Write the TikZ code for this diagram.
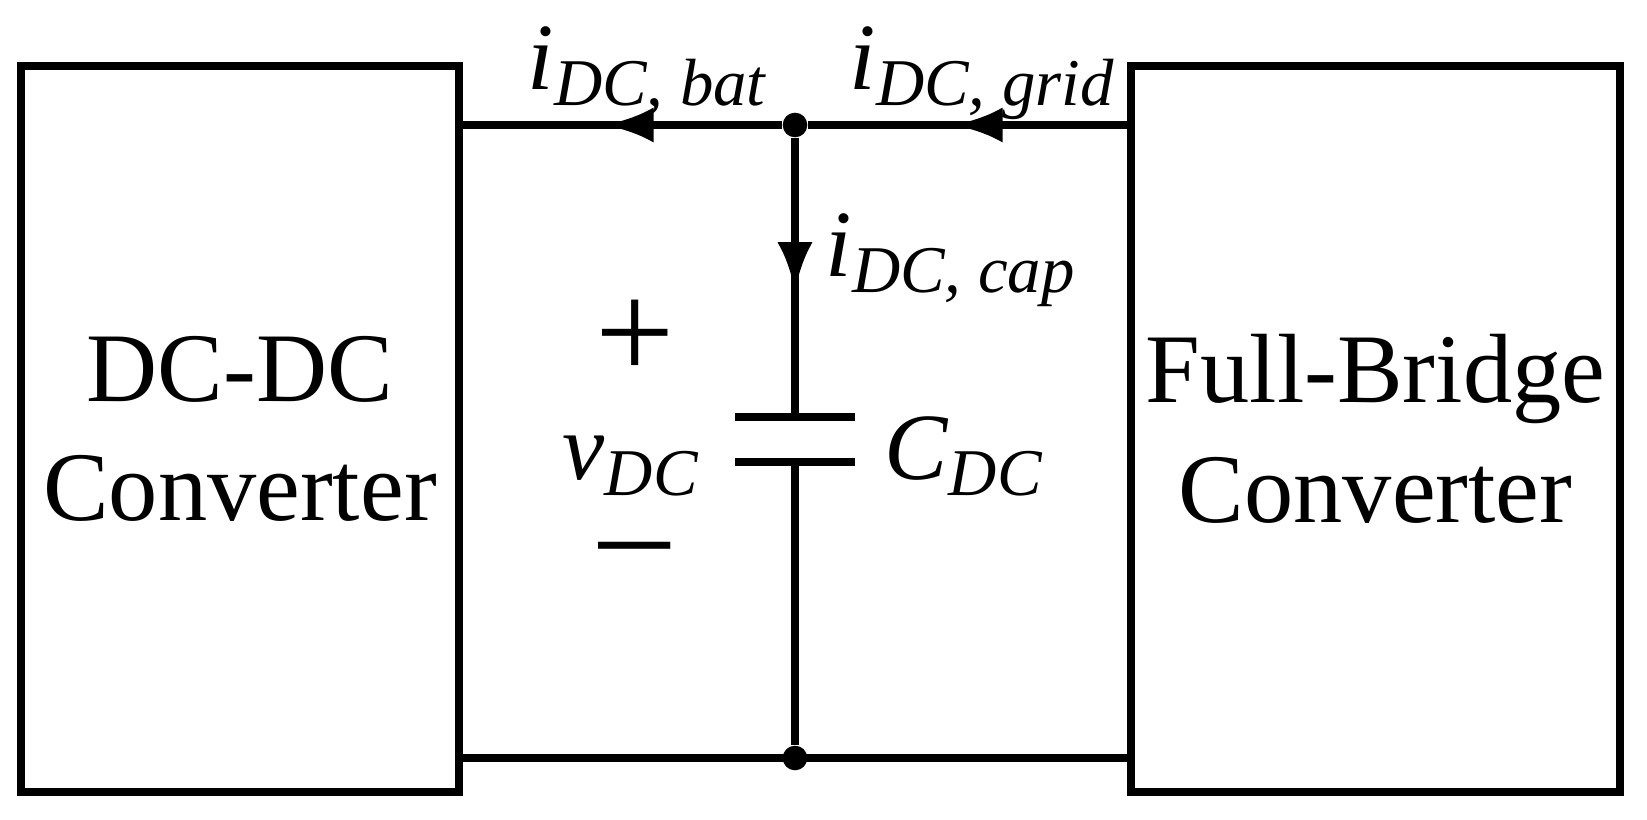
\documentclass[tikz,border=0pt]{standalone}
\usepackage{fontspec}
\setmainfont{Liberation Serif}
\usetikzlibrary{arrows.meta,decorations.markings}
\newcommand{\vsub}[2]{\textit{#1}\raisebox{-0.35ex}{\fontsize{19}{19}\selectfont\textit{#2}}}
\tikzset{
  wire/.style={line width=2.4pt},
  box/.style={draw,line width=2.4pt,align=center,font=\fontsize{28}{34}\selectfont},
  dot/.style={circle,fill,inner sep=0pt,minimum size=7pt},
  midarrow/.style={decoration={markings,mark=at position #1 with {\arrow{Latex[length=14pt,width=10pt]}}},postaction=decorate},
  lbl/.style={font=\fontsize{27}{27}\selectfont,inner sep=0pt,anchor=base west},
  sign/.style={font=\fontsize{40}{40}\selectfont,inner sep=0pt}
}
\begin{document}
\begin{tikzpicture}
\useasboundingbox (0,0) rectangle (16.47,8.19);
%converter blocks
\node[box,minimum width=4.38cm,minimum height=7.26cm] (dcdc) at (2.40,3.90) {DC-DC\\Converter};
\node[box,minimum width=4.89cm,minimum height=7.26cm] (fb) at (13.755,3.90) {Full-Bridge\\Converter};
%dc link nodes
\coordinate (lt) at (4.59,6.94);
\coordinate (lb) at (4.59,0.61);
\coordinate (rt) at (11.31,6.94);
\coordinate (rb) at (11.31,0.61);
\node[dot] (top) at (7.95,6.94) {};
\node[dot] (bot) at (7.95,0.61) {};
\coordinate (p1) at (7.95,4.02);
\coordinate (p2) at (7.95,3.57);
%wires
\draw[wire,midarrow=0.55] (top) -- (lt);
\draw[wire,midarrow=0.55] (rt) -- (top);
\draw[wire] (lb) -- (rb);
\draw[wire,midarrow=0.55] (top) -- (p1);
\draw[wire] (p2) -- (bot);
%capacitor
\draw[wire] (7.35,4.02) -- (8.55,4.02);
\draw[wire] (7.35,3.57) -- (8.55,3.57);
%labels
\node[lbl] (ibat) at (5.27,7.29) {\vsub{i}{DC, bat}};
\node[lbl] (igrid) at (8.49,7.29) {\vsub{i}{DC, grid}};
\node[lbl] (icap) at (8.25,5.42) {\vsub{i}{DC, cap}};
\node[sign] (plus) at (6.35,4.79) {+};
\node[lbl] (vdc) at (5.62,3.39) {\vsub{v}{DC}};
\node[sign,text height=0.3em,text depth=0pt] (minus) at (6.35,2.46) {–};
\node[lbl] (cdc) at (8.84,3.39) {\vsub{C}{DC}};
\end{tikzpicture}
\end{document}
